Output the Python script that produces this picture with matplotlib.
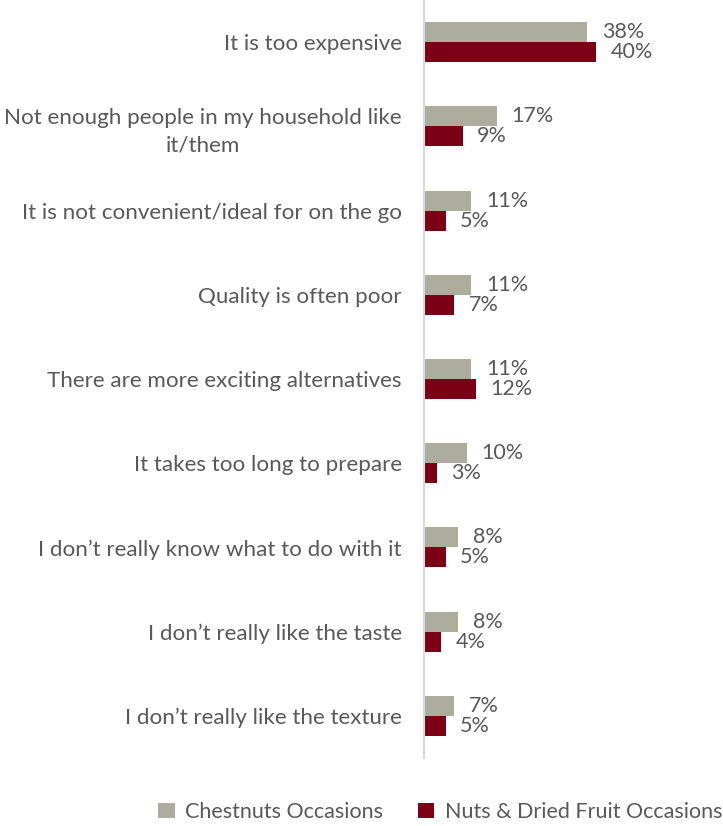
import matplotlib
matplotlib.use("Agg")
import matplotlib.pyplot as plt
import numpy as np

categories = [
    "It is too expensive",
    "Not enough people in my household like\nit/them",
    "It is not convenient/ideal for on the go",
    "Quality is often poor",
    "There are more exciting alternatives",
    "It takes too long to prepare",
    "I don\u2019t really know what to do with it",
    "I don\u2019t really like the taste",
    "I don\u2019t really like the texture",
]
chestnuts = [38, 17, 11, 11, 11, 10, 8, 8, 7]
nuts_dried = [40, 9, 5, 7, 12, 3, 5, 4, 5]
series_names = ["Chestnuts Occasions", "Nuts & Dried Fruit Occasions"]

GREY = "#ACAD9C"
RED = "#7B0015"
TEXT = "#595959"

plt.rcParams["font.family"] = ["Lato", "DejaVu Sans"]

W, H = 723, 826
fig = plt.figure(figsize=(W / 100, H / 100), dpi=100)
ax = fig.add_axes([424 / W, 1 - 758 / H, (W - 424) / W, 758 / H])

y = np.arange(len(categories))
bh = 0.237
ax.barh(y - bh / 2, chestnuts, height=bh, color=GREY, label=series_names[0])
ax.barh(y + bh / 2, nuts_dried, height=bh, color=RED, label=series_names[1])

ax.set_ylim(len(categories) - 0.5, -0.5)
ax.set_xlim(0, (W - 424) / 4.3)

FS = 15.5
for yi, v in zip(y, chestnuts):
    ax.annotate(f"{v}%", (v, yi - bh / 2), xytext=(10.5, 0), textcoords="offset points",
                va="center", ha="left", fontsize=FS, color=TEXT)
for yi, v in zip(y, nuts_dried):
    ax.annotate(f"{v}%", (v, yi + bh / 2), xytext=(10.5, 0), textcoords="offset points",
                va="center", ha="left", fontsize=FS, color=TEXT)

ax.set_yticks(y)
ax.set_yticklabels(categories, fontsize=16.1, color=TEXT, ha="right", multialignment="center",
                   linespacing=1.45)
ax.tick_params(axis="y", length=0, pad=16)
ax.set_xticks([])
for s in ["top", "right", "bottom"]:
    ax.spines[s].set_visible(False)
ax.spines["left"].set_color("#D9D9D9")
ax.spines["left"].set_linewidth(1.5)

fig.legend(loc="center", bbox_to_anchor=(0.609, 1 - 812 / H), ncol=2, frameon=False,
           fontsize=FS, labelcolor=TEXT, handlelength=0.75, handleheight=0.75,
           handletextpad=0.5, columnspacing=1.6)

fig.savefig("out.png", dpi=100)
